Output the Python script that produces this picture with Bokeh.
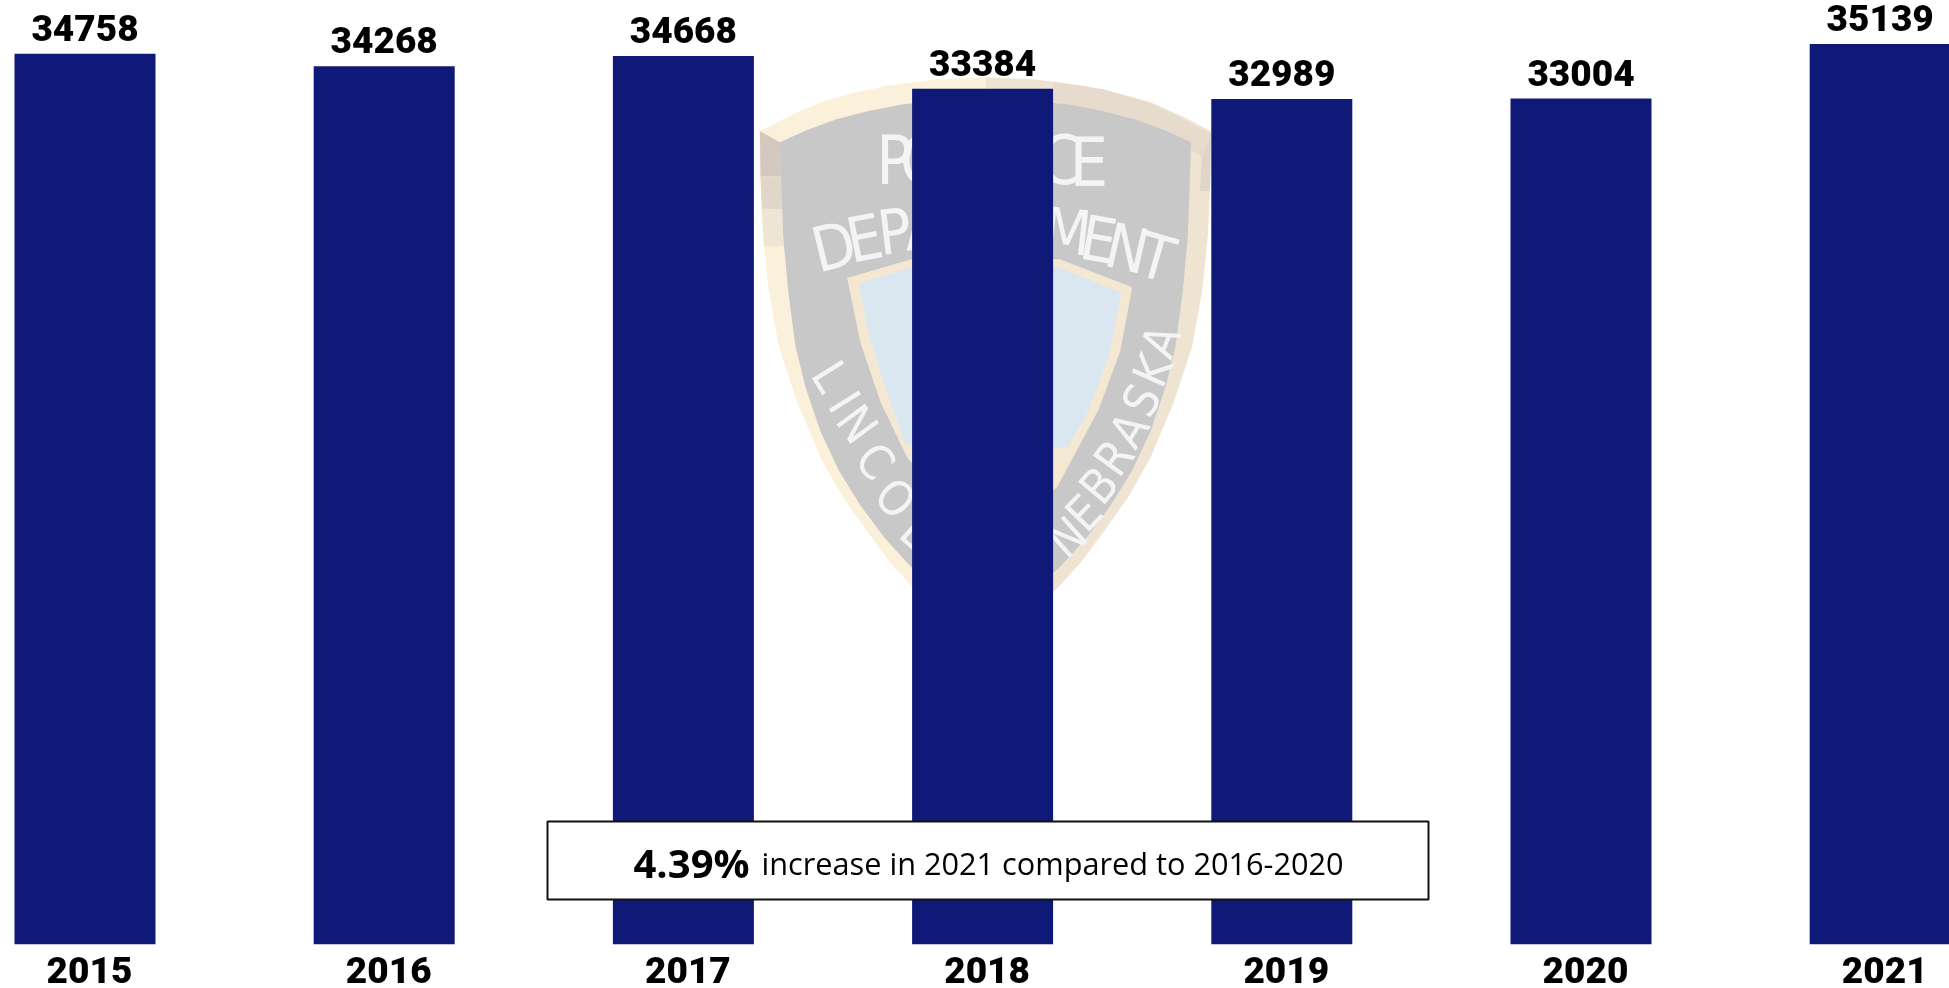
from bokeh.plotting import figure
from bokeh.models import Range1d, LinearAxis, FixedTicker, NumeralTickFormatter
from bokeh.core.properties import value
from bokeh.embed import file_html
from bokeh.resources import INLINE

years = [2015, 2016, 2017, 2018, 2019, 2020, 2021]
calls = [34758, 34268, 34668, 33384, 32989, 33004, 35139]
note_bold = "4.39%"
note_rest = "increase in 2021 compared to 2016-2020"

W, H = 1949, 988
FRAME_H = 944
PITCH = 299.2
X0 = 84.5
BAR_PX = 141
LABEL_SHIFT = 4.5
BIG = "Roboto Black, Liberation Sans"

p = figure(width=W, height=H, output_backend="svg", toolbar_location=None,
           x_range=Range1d(years[0] - X0 / PITCH, years[0] + (W - X0) / PITCH),
           y_range=Range1d(0, FRAME_H / 0.02563),
           min_border=0, min_border_left=0, min_border_right=0,
           min_border_top=0, min_border_bottom=H - FRAME_H,
           outline_line_color=None, background_fill_color="white",
           border_fill_color="white")
p.styles = {"position": "fixed", "left": "0", "top": "0"}
p.grid.visible = False
p.xaxis.visible = False
p.yaxis.visible = False

p.extra_x_ranges["px"] = Range1d(0, W)
p.extra_y_ranges["px"] = Range1d(FRAME_H, 0)
p.extra_x_ranges["lab"] = Range1d(years[0] - (X0 + LABEL_SHIFT) / PITCH,
                                  years[0] + (W - X0 - LABEL_SHIFT) / PITCH)

fx = lambda v: 720 + v / 3
fy = lambda v: 50 + v / 2.703
PX = dict(x_range_name="px", y_range_name="px")
AXIS = 795

def shape(pts, color):
    p.patch([fx(a) for a, _ in pts], [fy(b) for _, b in pts], fill_color=color,
            line_color=None, **PX)

def mirror(pts):
    return [(2 * AXIS - a, b) for a, b in reversed(pts)]

top_out = [(118, 218), (200, 180), (300, 140), (400, 115), (500, 95), (650, 78), (795, 72)]
side_out = [(795, 1620), (650, 1510), (576, 1450), (510, 1385), (440, 1300), (365, 1205), (300, 1100),
            (230, 950), (175, 800), (145, 650), (128, 500), (120, 350)]
half_out = top_out + side_out
shape(half_out, "#fbf0da")
shape(mirror(half_out), "#efe4d2")
shape([(1472, 225), (1300, 145), (1150, 105), (1000, 85), (1000, 140), (1240, 185), (1445, 285)], "#e6dbcd")
for (a, b, c, d), col in [(((118, 218), (178, 248), (182, 340), (120, 340)), "#d3c8c0"),
                          (((120, 340), (182, 340), (188, 430), (124, 430)), "#e0d6ca"),
                          (((124, 430), (188, 430), (196, 530), (130, 530)), "#efe5d5"),
                          (((1472, 225), (1445, 285), (1438, 380), (1468, 380)), "#dfd5cb")]:
    shape([a, b, c, d], col)
top_grey = [(178, 248), (260, 215), (350, 185), (450, 162), (550, 145), (680, 134), (795, 130)]
side_grey = [(795, 1560), (660, 1460), (576, 1400), (490, 1315), (420, 1230), (355, 1135), (300, 1030),
             (255, 910), (225, 800), (203, 650), (188, 500)]
half_grey = top_grey + side_grey
shape(half_grey, "#c8c8c8")
shape(mirror(half_grey), "#c8c8c8")
shape([(380, 615), (570, 565), (795, 550), (1020, 565), (1235, 640), (1200, 810), (1135, 970),
       (1010, 1180), (795, 1350), (560, 1100), (480, 950), (420, 790)], "#f4e8d2")
shape([(415, 630), (576, 585), (795, 575), (1010, 585), (1203, 655), (1165, 830), (1100, 980),
       (1040, 1075), (555, 1065), (490, 900), (440, 750)], "#dae6f0")

badge_letters = [
    ("P", 522, 298, 0, 68), ("O", 610, 298, 0, 68), ("L", 700, 298, 0, 68), ("I", 790, 298, 0, 68),
    ("C", 1020, 298, 0, 68), ("E", 1105, 302, 0, 68),
    ("D", 340, 530, 14, 62), ("E", 432, 508, 11, 62), ("P", 522, 490, 7, 62), ("A", 610, 480, 4, 62),
    ("R", 700, 474, 1, 62), ("T", 790, 472, 0, 62), ("M", 1040, 490, -6, 62), ("E", 1134, 512, -10, 62),
    ("N", 1220, 536, -13, 62), ("T", 1308, 560, -16, 62),
    ("L", 330, 880, -58, 48), ("I", 372, 950, -58, 48), ("N", 410, 1010, -54, 48), ("C", 465, 1110, -50, 48),
    ("O", 525, 1210, -46, 48), ("L", 590, 1300, -42, 48),
    ("N", 1040, 1315, 42, 48), ("E", 1090, 1250, 46, 48), ("B", 1135, 1175, 50, 48), ("R", 1180, 1100, 54, 48),
    ("A", 1225, 1025, 58, 48), ("S", 1262, 945, 62, 48), ("K", 1295, 865, 66, 48), ("A", 1320, 785, 68, 48),
]
for ch, a, b, ang, size in badge_letters:
    p.text([fx(a)], [fy(b)], text=[ch], angle=[ang], angle_units="deg", text_color="#f4f4f4",
           text_font=value("DejaVu Sans Condensed"), text_font_size=f"{size}px",
           text_align="center", text_baseline="middle", **PX)

p.vbar(x=years, top=calls, width=BAR_PX / PITCH, bottom=0, fill_color="#0f1a78", line_color=None)

p.text(x=years, y=calls, text=[str(c) for c in calls], text_font=value(BIG), text_font_style="normal",
       text_font_size="37px", text_color="black", text_align="center", text_baseline="alphabetic",
       y_offset=-26)

axis = LinearAxis(x_range_name="lab", ticker=FixedTicker(ticks=years),
                  formatter=NumeralTickFormatter(format="0"),
                  major_label_text_font=BIG, major_label_text_font_style="normal",
                  major_label_text_font_size="37px", major_label_text_color="black",
                  major_label_standoff=6, axis_line_color=None,
                  major_tick_line_color=None, minor_tick_line_color=None)
p.add_layout(axis, "below")

p.quad(left=[547], right=[1428], top=[821], bottom=[899], fill_color="white",
       line_color="#111111", line_width=2, **PX)
p.text([633], [862], text=[note_bold], text_font=value("Open Sans"), text_font_style="bold",
       text_font_size="40px", text_color="black", text_baseline="alphabetic", **PX)
p.text([761], [862], text=[note_rest], text_font=value("Open Sans"),
       text_font_size="30.7px", text_color="black", text_baseline="alphabetic", **PX)

open("out.html", "w").write(file_html(p, INLINE))
